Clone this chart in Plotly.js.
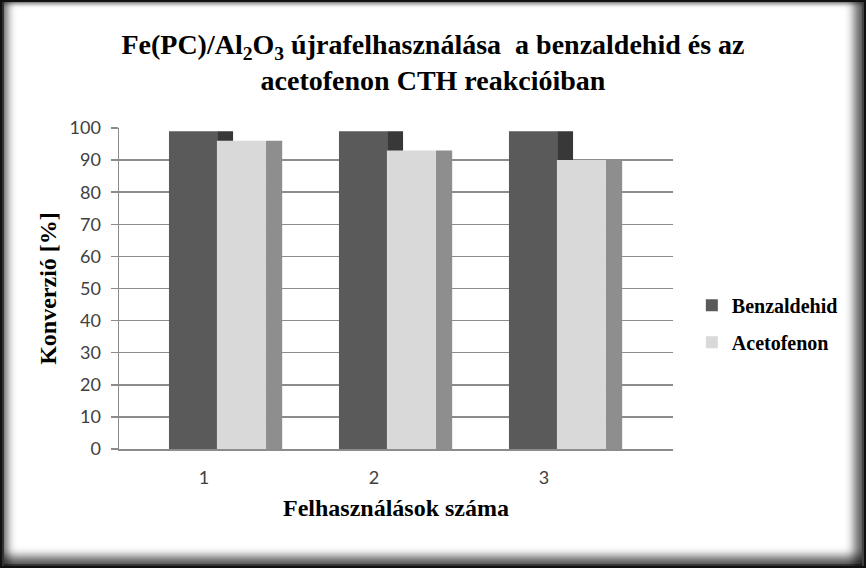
<!DOCTYPE html>
<html>
<head>
<meta charset="utf-8">
<script src="https://cdn.plot.ly/plotly-3.0.1.min.js"></script>
<style>
  html, body { margin: 0; padding: 0; background: #fff; }
  #wrap { position: relative; width: 866px; height: 568px; }
  #chart { width: 866px; height: 568px; }
  /* Excel style frame: black edge with a soft grey bevel inside */
  #frame {
    position: absolute; left: 0; top: 0; width: 866px; height: 568px;
    box-sizing: border-box; border: 2px solid #111; pointer-events: none;
    box-shadow: inset 2px 0 0 #333,
                inset 9px 0 9px -3px rgba(0,0,0,0.55),
                inset -2px 0 0 #444,
                inset -13px 0 10px -3px rgba(0,0,0,0.6),
                inset 0 -2px 0 #444,
                inset 0 -13px 10px -3px rgba(0,0,0,0.6),
                inset 0 3px 4px -2px rgba(0,0,0,0.45);
  }
</style>
</head>
<body>
<div id="wrap">
  <div id="chart"></div>
  <div id="frame"></div>
</div>
<script>
'use strict';

/* ---------- data ---------- */
var uses        = ['1', '2', '3'];
var benzaldehid = [99, 99, 99];
var acetofenon  = [96, 93, 90];

/* ---------- colours ---------- */
var BENZ_FRONT = '#5a5a5a', BENZ_SIDE = '#383838';
var ACET_FRONT = '#d9d9d9', ACET_SIDE = '#8e8e8e';

var xs = uses.map(function (_, i) { return i; });

/* front face + thin darker side face fake the Excel 3D column look */
function bar(name, group, y, color, offset, width, legend) {
  return {
    type: 'bar', name: name, legendgroup: group, x: xs, y: y,
    offset: offset, width: width,
    marker: { color: color, line: { width: 0 } },
    showlegend: legend, hoverinfo: 'y'
  };
}

var traces = [
  bar('Benzaldehid', 'b', benzaldehid, BENZ_FRONT, -0.206, 0.290, true),
  bar('Benzaldehid', 'b', benzaldehid, BENZ_SIDE,   0.082, 0.089, false),
  bar('Acetofenon',  'a', acetofenon,  ACET_FRONT,  0.076, 0.290, true),
  bar('Acetofenon',  'a', acetofenon,  ACET_SIDE,   0.365, 0.095, false)
];

var serifBold = { family: 'Liberation Serif, Times New Roman, serif', weight: 'bold', color: '#000' };
var tickFont  = { family: 'Lato, Open Sans, sans-serif', size: 18, color: '#404040' };

var layout = {
  width: 866, height: 568,
  paper_bgcolor: '#fff', plot_bgcolor: '#fff',
  margin: { l: 119, r: 193, t: 128, b: 119 },
  barmode: 'overlay',
  title: {
    text: 'Fe(PC)/Al<sub>2</sub>O<sub>3</sub> újrafelhasználása  a benzaldehid és az<br>acetofenon CTH reakcióiban',
    font: Object.assign({ size: 28 }, serifBold),
    xref: 'container', x: 0.5, xanchor: 'center',
    yref: 'container', y: 0.905, yanchor: 'top'
  },
  xaxis: {
    range: [-0.5, 2.759],
    tickvals: xs, ticktext: uses,
    showgrid: false, zeroline: false,
    showline: true, linecolor: '#8c8c8c', linewidth: 1.5,
    ticks: '', ticklabelstandoff: 12,
    tickfont: tickFont,
    title: { text: 'Felhasználások száma', font: Object.assign({ size: 24 }, serifBold), standoff: 12 }
  },
  yaxis: {
    range: [0, 100], dtick: 10, tick0: 0,
    showgrid: true, gridcolor: '#8c8c8c', gridwidth: 1.5,
    zeroline: false,
    showline: true, linecolor: '#8c8c8c', linewidth: 1.5,
    ticks: 'outside', ticklen: 7, tickcolor: '#8c8c8c', tickwidth: 1.5,
    ticklabelstandoff: 6,
    tickfont: tickFont,
    title: { text: 'Konverzió [%]', font: Object.assign({ size: 24 }, serifBold), standoff: 6 }
  },
  legend: {
    x: 1.034, xanchor: 'left', y: 0.39, yanchor: 'middle',
    font: Object.assign({ size: 20 }, serifBold),
    bgcolor: 'rgba(0,0,0,0)', itemwidth: 30,
    traceorder: 'grouped', tracegroupgap: 8
  },
  showlegend: true
};

Plotly.newPlot('chart', traces, layout, { displayModeBar: false, staticPlot: true });
</script>
</body>
</html>
